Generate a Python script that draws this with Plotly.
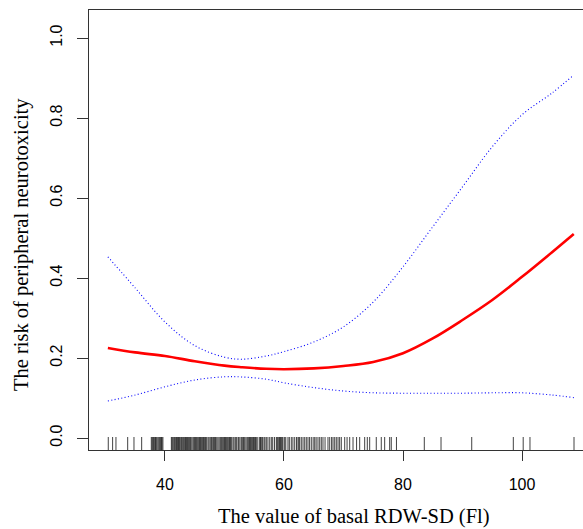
import plotly.graph_objects as go

# Fitted curve (risk) and 95% CI
x_fit = [30.4, 35, 40, 45, 50, 53, 57, 60, 65, 70, 75, 80, 85, 90, 95, 100, 105, 108.7]
risk = [0.225, 0.214, 0.205, 0.192, 0.181, 0.177, 0.173, 0.172, 0.174, 0.18, 0.19, 0.212,
        0.249, 0.295, 0.345, 0.403, 0.464, 0.51]
upper = [0.453, 0.375, 0.29, 0.231, 0.202, 0.197, 0.205, 0.216, 0.24, 0.278, 0.34, 0.428,
         0.528, 0.628, 0.728, 0.808, 0.862, 0.9075]
lower = [0.0925, 0.1075, 0.128, 0.145, 0.153, 0.1525, 0.147, 0.138, 0.126, 0.1175, 0.113,
         0.112, 0.112, 0.112, 0.113, 0.113, 0.1075, 0.101]

# Observed RDW-SD values (rug)
rug_values = [30.47, 31.2, 31.76, 33.73, 34.79, 36.08,
              37.7, 37.85, 37.98, 38.1, 38.27, 38.4, 38.54, 38.7, 38.94, 39.1, 39.27, 39.4,
              39.5, 39.65,
              41.07, 41.2, 41.34, 41.5, 41.63, 41.8, 41.95, 42.07, 42.2, 42.3, 42.45, 42.64,
              42.8, 42.91, 43.1, 43.3, 43.45, 43.6, 43.75, 43.87, 44.0, 44.15, 44.3, 44.5,
              44.7, 44.85, 45.0, 45.1, 45.26, 45.4, 45.55, 45.7, 45.83, 45.95, 46.1, 46.25,
              46.39, 46.5, 46.67, 46.8, 47.0, 47.23, 47.4, 47.6, 47.78, 47.9, 48.07, 48.2,
              48.35, 48.5, 48.7, 48.9, 49.1, 49.3, 49.46, 49.6, 49.75, 49.9, 50.03, 50.15,
              50.3, 50.45, 50.59, 50.75, 50.87, 51.0, 51.2, 51.43, 51.6, 51.82, 52.0, 52.27,
              52.4, 52.6, 52.83, 53.0, 53.2, 53.39, 53.6, 53.8, 53.95, 54.1, 54.23, 54.35,
              54.5, 54.65, 54.79, 54.9, 55.07, 55.2, 55.35, 55.6, 55.91, 56.05, 56.19, 56.4,
              56.64, 56.8, 57.03, 57.3, 57.6, 57.87, 58.1, 58.4, 58.71, 58.85, 58.99, 59.15,
              59.27, 59.4, 59.55, 59.7, 59.83, 60.11, 60.3, 60.67, 60.9, 61.23, 61.5, 61.8,
              62.1, 62.35, 62.5, 62.64, 62.91, 63.2, 63.48, 63.75, 64.03, 64.3, 64.59, 64.9,
              65.16, 65.4, 65.71, 66.0, 66.27, 66.55, 66.9, 67.39, 67.68, 68.0, 68.24, 68.52,
              68.79, 69.08, 69.35, 69.63, 70.2, 70.6, 71.04, 71.6, 72.2, 72.72, 73.56, 74.0,
              74.4, 75.51, 76.35, 76.92, 77.76, 78.03, 78.9,
              83.58, 86.39, 91.55, 98.54, 100.2, 101.34, 108.74]

x_ticks = [40, 60, 80, 100]
y_ticks = [0.0, 0.2, 0.4, 0.6, 0.8, 1.0]
y_tick_labels = ["0.0", "0.2", "0.4", "0.6", "0.8", "1.0"]

rug_x, rug_y = [], []
for v in rug_values:
    rug_x += [v, v, None]
    rug_y += [-0.03, 0.0025, None]

fig = go.Figure()
fig.add_trace(go.Scatter(x=rug_x, y=rug_y, mode="lines",
                         line=dict(color="#111", width=0.8), hoverinfo="skip"))
fig.add_trace(go.Scatter(x=x_fit, y=upper, mode="lines", line_shape="spline",
                         line=dict(color="blue", width=1.1, dash="1px,2.4px")))
fig.add_trace(go.Scatter(x=x_fit, y=lower, mode="lines", line_shape="spline",
                         line=dict(color="blue", width=1.1, dash="1px,2.4px")))
fig.add_trace(go.Scatter(x=x_fit, y=risk, mode="lines", line_shape="spline",
                         line=dict(color="red", width=2.6)))

tick_font = dict(family="Liberation Sans, Arial, sans-serif", size=16, color="black")
title_font = dict(family="Liberation Serif, Times New Roman, serif", size=20.5, color="black")

fig.update_layout(
    width=583, height=529,
    margin=dict(l=89, r=0, t=10, b=79),
    paper_bgcolor="white", plot_bgcolor="white",
    showlegend=False,
    xaxis=dict(range=[27.23, 110.25], tickvals=x_ticks, ticks="outside", ticklen=10,
               tickwidth=1, tickcolor="#333", showline=True, linecolor="#333", linewidth=1,
               mirror=True, showgrid=False, zeroline=False, tickfont=tick_font,
               ticklabelstandoff=10),
    yaxis=dict(range=[-0.03, 1.07], tickvals=y_ticks, ticktext=y_tick_labels,
               ticks="outside", ticklen=11, tickwidth=1, tickcolor="#333", showline=True,
               linecolor="#333", linewidth=1, mirror=False, showgrid=False, zeroline=False,
               tickfont=tick_font, tickangle=-90, ticklabelstandoff=9),
    annotations=[
        dict(text="The value of basal RDW-SD (Fl)", xref="paper", yref="paper",
             x=0.5364, y=-0.152, xanchor="center", yanchor="middle", showarrow=False,
             font=title_font),
        dict(text="The risk of peripheral neurotoxicity", xref="paper", yref="paper",
             x=-0.1377, y=0.468, xanchor="center", yanchor="middle", showarrow=False,
             textangle=-90, font=title_font),
    ],
)

fig.write_html("out.html", config={"displayModeBar": False},
               post_script="document.body.style.margin='0px';"
                           "document.body.style.overflow='hidden';")
